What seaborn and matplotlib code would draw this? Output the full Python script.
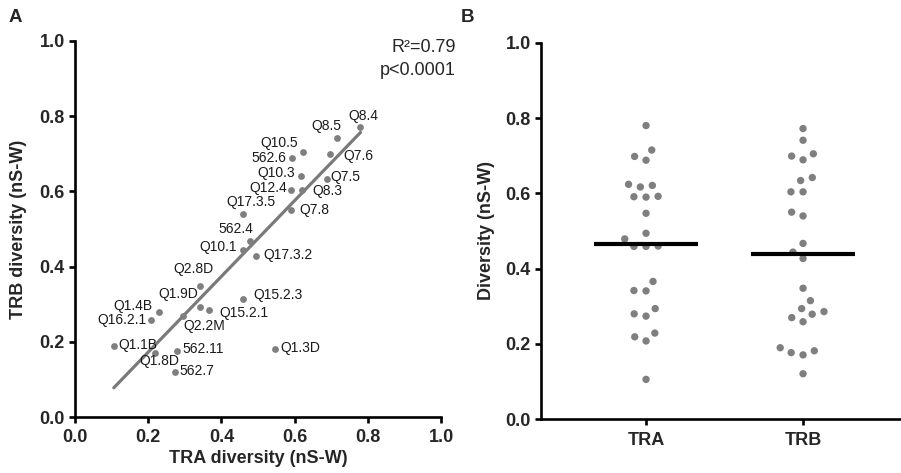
import numpy as np
import pandas as pd
import matplotlib
matplotlib.use("Agg")
import matplotlib.pyplot as plt
import seaborn as sns

# Per-sample repertoire diversity (normalised Shannon-Wiener)
samples = ["Q8.4", "Q8.5", "Q10.5", "562.6", "Q7.6", "Q10.3", "Q7.5", "Q12.4",
           "Q8.3", "Q17.3.5", "Q7.8", "562.4", "Q10.1", "Q17.3.2", "Q2.8D",
           "Q15.2.3", "Q1.9D", "Q15.2.1", "Q1.4B", "Q2.2M", "Q16.2.1", "Q1.1B",
           "Q1.8D", "562.11", "Q1.3D", "562.7"]
tra = [0.780, 0.715, 0.624, 0.592, 0.698, 0.617, 0.688, 0.590,
       0.621, 0.459, 0.591, 0.479, 0.459, 0.494, 0.342,
       0.460, 0.341, 0.366, 0.229, 0.294, 0.208, 0.106,
       0.219, 0.280, 0.547, 0.274]
trb = [0.772, 0.741, 0.705, 0.689, 0.699, 0.642, 0.634, 0.604,
       0.604, 0.540, 0.550, 0.467, 0.444, 0.427, 0.348,
       0.315, 0.294, 0.286, 0.279, 0.270, 0.259, 0.190,
       0.171, 0.177, 0.182, 0.121]
chains = ["TRA", "TRB"]
fit_text = ["R\u00b2=0.79", "p<0.0001"]

# label placement around each point: (ha, dx px, dy px upward)
label_pos = {
    "Q8.4": ("center", 3, 11), "Q8.5": ("right", 5, 12), "Q10.5": ("right", -5, 9),
    "562.6": ("right", -5, 0), "Q7.6": ("left", 13, -2), "Q10.3": ("right", -6, 3),
    "Q7.5": ("left", 4, 2), "Q12.4": ("right", -4, 2), "Q8.3": ("left", 10, -1),
    "Q17.3.5": ("center", 8, 12), "Q7.8": ("left", 8, 0), "562.4": ("center", -14, 12),
    "Q10.1": ("right", -6, 3), "Q17.3.2": ("left", 8, 1), "Q2.8D": ("center", -7, 17),
    "Q15.2.3": ("left", 10, 4), "Q1.9D": ("right", -2, 13), "Q15.2.1": ("left", 10, -3),
    "Q1.4B": ("right", -6, 6), "Q2.2M": ("left", 1, -10), "Q16.2.1": ("right", -5, 0),
    "Q1.1B": ("left", 5, 1), "Q1.8D": ("center", 4, -8), "562.11": ("left", 5, 2),
    "Q1.3D": ("left", 5, 1), "562.7": ("left", 4, 1),
}

sns.set_style("ticks")
plt.rcParams["font.family"] = ["Liberation Sans", "DejaVu Sans"]

dot_color = "#7f7f7f"
W, H = 901, 473
fig = plt.figure(figsize=(W / 100, H / 100), dpi=100)


def frac(x0, x1, ytop, ybot):
    return [x0 / W, 1 - ybot / H, (x1 - x0) / W, (ybot - ytop) / H]


axA = fig.add_axes(frac(75, 441, 40.7, 417.3))
axB = fig.add_axes(frac(541, 901, 42.7, 419.3))

df = pd.DataFrame({"sample": samples, "TRA": tra, "TRB": trb})

# ---- A: TRA vs TRB with linear fit ----
sns.regplot(data=df, x="TRA", y="TRB", ax=axA, scatter=False, ci=None,
            truncate=True, line_kws=dict(color="#7a7a7a", lw=2.3, zorder=2))
sns.scatterplot(data=df, x="TRA", y="TRB", ax=axA, color=dot_color, s=24,
                linewidth=0, zorder=3)
for name, x, y in zip(samples, tra, trb):
    ha, dx, dy = label_pos[name]
    axA.annotate(name, (x, y), xytext=(dx, dy), textcoords="offset pixels",
                 ha=ha, va="center", fontsize=10, color="#1a1a1a")

axA.set_xlim(0, 1)
axA.set_ylim(0, 1)
axA.set_xticks(np.arange(0, 1.01, 0.2))
axA.set_yticks(np.arange(0, 1.01, 0.2))
axA.set_xlabel("TRA diversity (nS-W)", fontsize=13, fontweight="bold")
axA.set_ylabel("TRB diversity (nS-W)", fontsize=13, fontweight="bold")
axA.xaxis.set_label_coords(0.5, -0.088)
axA.yaxis.set_label_coords(-0.131, 0.5)
axA.text(1.041, 0.983, fit_text[0], transform=axA.transAxes, ha="right",
         va="center", fontsize=13, clip_on=False)
axA.text(1.041, 0.92, fit_text[1], transform=axA.transAxes, ha="right",
         va="center", fontsize=13, clip_on=False)

# ---- B: diversity by chain, with means ----
long = df.melt(id_vars="sample", value_vars=chains, var_name="chain",
               value_name="diversity")
sns.swarmplot(data=long, x="chain", y="diversity", order=chains, ax=axB,
              color=dot_color, size=5.3, linewidth=3, edgecolor="none")
for c in axB.collections:
    c.set_edgecolor("none")
    c.set_zorder(2)
means = long.groupby("chain")["diversity"].mean()
for i, ch in enumerate(chains):
    axB.hlines(means[ch], i - 0.33, i + 0.33, color="black", lw=3, zorder=4)

axB.set_xlim(-0.669, 1.624)
axB.set_ylim(0, 1)
axB.set_yticks(np.arange(0, 1.01, 0.2))
axB.set_xlabel("")
axB.set_ylabel("Diversity (nS-W)", fontsize=13, fontweight="bold")
axB.yaxis.set_label_coords(-0.128, 0.5)

for ax in (axA, axB):
    sns.despine(ax=ax)
    for s in ("left", "bottom"):
        ax.spines[s].set_linewidth(1.9)
        ax.spines[s].set_color("black")
    ax.tick_params(width=1.9, length=4.3, color="black", labelsize=13, pad=3)
    ax.set_yticklabels([f"{v:.1f}" for v in ax.get_yticks()], fontweight="bold")
axA.set_xticklabels([f"{v:.1f}" for v in axA.get_xticks()], fontweight="bold")
axB.set_xticklabels(chains, fontweight="bold")
axA.tick_params(axis="x", pad=4)
axB.tick_params(axis="x", pad=5)

fig.text(15 / W, 1 - 18 / H, "A", fontsize=13.5, fontweight="bold",
         ha="center", va="center")
fig.text(467 / W, 1 - 18 / H, "B", fontsize=13.5, fontweight="bold",
         ha="center", va="center")

fig.savefig("out.png", dpi=100)
